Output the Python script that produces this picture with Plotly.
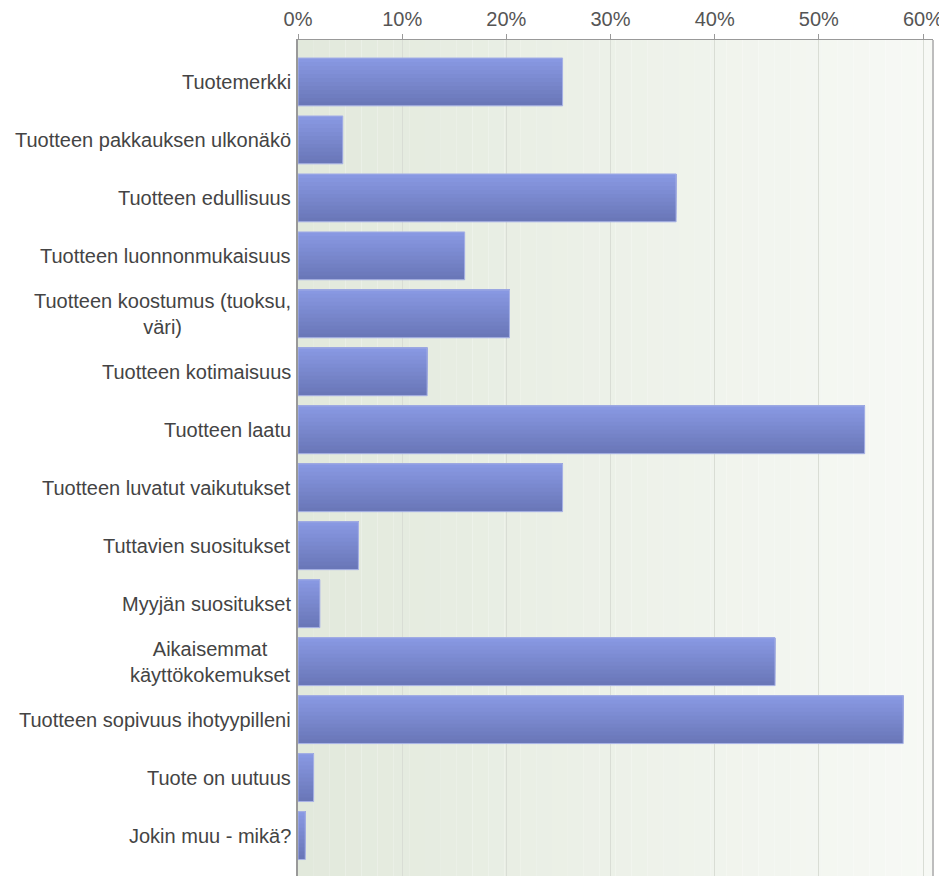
import plotly.graph_objects as go

# survey answers (% of respondents)
labels = [
    "Tuotemerkki",
    "Tuotteen pakkauksen ulkonäkö",
    "Tuotteen edullisuus",
    "Tuotteen luonnonmukaisuus",
    "Tuotteen koostumus (tuoksu,<br>väri)",
    "Tuotteen kotimaisuus",
    "Tuotteen laatu",
    "Tuotteen luvatut vaikutukset",
    "Tuttavien suositukset",
    "Myyjän suositukset",
    "Aikaisemmat<br>käyttökokemukset",
    "Tuotteen sopivuus ihotyypilleni",
    "Tuote on uutuus",
    "Jokin muu - mikä?",
]
shares = [25.4, 4.3, 36.3, 16.0, 20.3, 12.4, 54.4, 25.4, 5.8, 2.1, 45.8, 58.1, 1.5, 0.7]
tick_vals = [0, 10, 20, 30, 40, 50, 60]
tick_text = ["0%", "10%", "20%", "30%", "40%", "50%", "60%"]

FONT = "Liberation Sans, Arial, sans-serif"
BAR_W = 0.826
TOP_RGB = (136, 152, 226)
BOT_RGB = (106, 119, 184)


def mix(c1, c2, t):
    return "rgb(%d,%d,%d)" % tuple(round(a + (b - a) * t) for a, b in zip(c1, c2))


fig = go.Figure()

# fake a vertical gradient: dark full bar, then lighter bars covering less from the top
n_layers = 12
for k in range(n_layers):
    frac = 1 - k / n_layers
    fig.add_trace(
        go.Bar(
            x=shares,
            y=labels,
            orientation="h",
            width=BAR_W * frac,
            offset=-BAR_W / 2,
            marker=dict(color=mix(BOT_RGB, TOP_RGB, k / (n_layers - 1)), line_width=0),
            hoverinfo="skip",
            showlegend=False,
        )
    )
# outline
fig.add_trace(
    go.Bar(
        x=shares,
        y=labels,
        orientation="h",
        width=BAR_W,
        offset=-BAR_W / 2,
        marker=dict(color="rgba(0,0,0,0)", line=dict(color="#a9b3e6", width=1)),
        hovertemplate="%{y}: %{x:.1f}%<extra></extra>",
        showlegend=False,
    )
)

# background gradient, green-grey on the left fading to white
shapes = []
n_steps = 40
for i in range(n_steps):
    shapes.append(
        dict(
            type="rect",
            xref="x domain",
            yref="y domain",
            x0=i / n_steps,
            x1=(i + 1) / n_steps,
            y0=0,
            y1=1,
            fillcolor=mix((226, 233, 220), (247, 249, 245), i / (n_steps - 1)),
            line_width=0,
            layer="below",
        )
    )
shapes.append(
    dict(
        type="line",
        xref="x domain",
        yref="y domain",
        x0=1,
        x1=1,
        y0=0,
        y1=1,
        line=dict(color="#bdbdbd", width=2),
    )
)

annotations = [
    dict(
        text=lab,
        x=0,
        y=lab,
        xref="paper",
        yref="y",
        xanchor="right",
        yanchor="middle",
        xshift=-5,
        align="center",
        showarrow=False,
        font=dict(family=FONT, size=20, color="#444444"),
    )
    for lab in labels
]

# page body has an 8px margin, so the figure is 8px smaller than the window
fig.update_layout(
    width=939,
    height=868,
    margin=dict(l=290, r=14, t=30, b=0),
    paper_bgcolor="white",
    plot_bgcolor="white",
    barmode="overlay",
    shapes=shapes,
    annotations=annotations,
    xaxis=dict(
        side="top",
        range=[0, 60.96],
        tickvals=tick_vals,
        ticktext=tick_text,
        ticks="outside",
        ticklen=5,
        tickcolor="#999999",
        tickfont=dict(family=FONT, size=20, color="#555555"),
        showgrid=True,
        gridcolor="#d9ddd5",
        gridwidth=1,
        showline=True,
        linecolor="#999999",
        linewidth=1,
        zeroline=False,
    ),
    yaxis=dict(
        type="category",
        categoryorder="array",
        categoryarray=labels,
        range=[13.697, -0.723],
        showticklabels=False,
        showgrid=False,
        zeroline=False,
        showline=True,
        linecolor="#999999",
        linewidth=2,
    ),
)

fig.write_html("out.html")
